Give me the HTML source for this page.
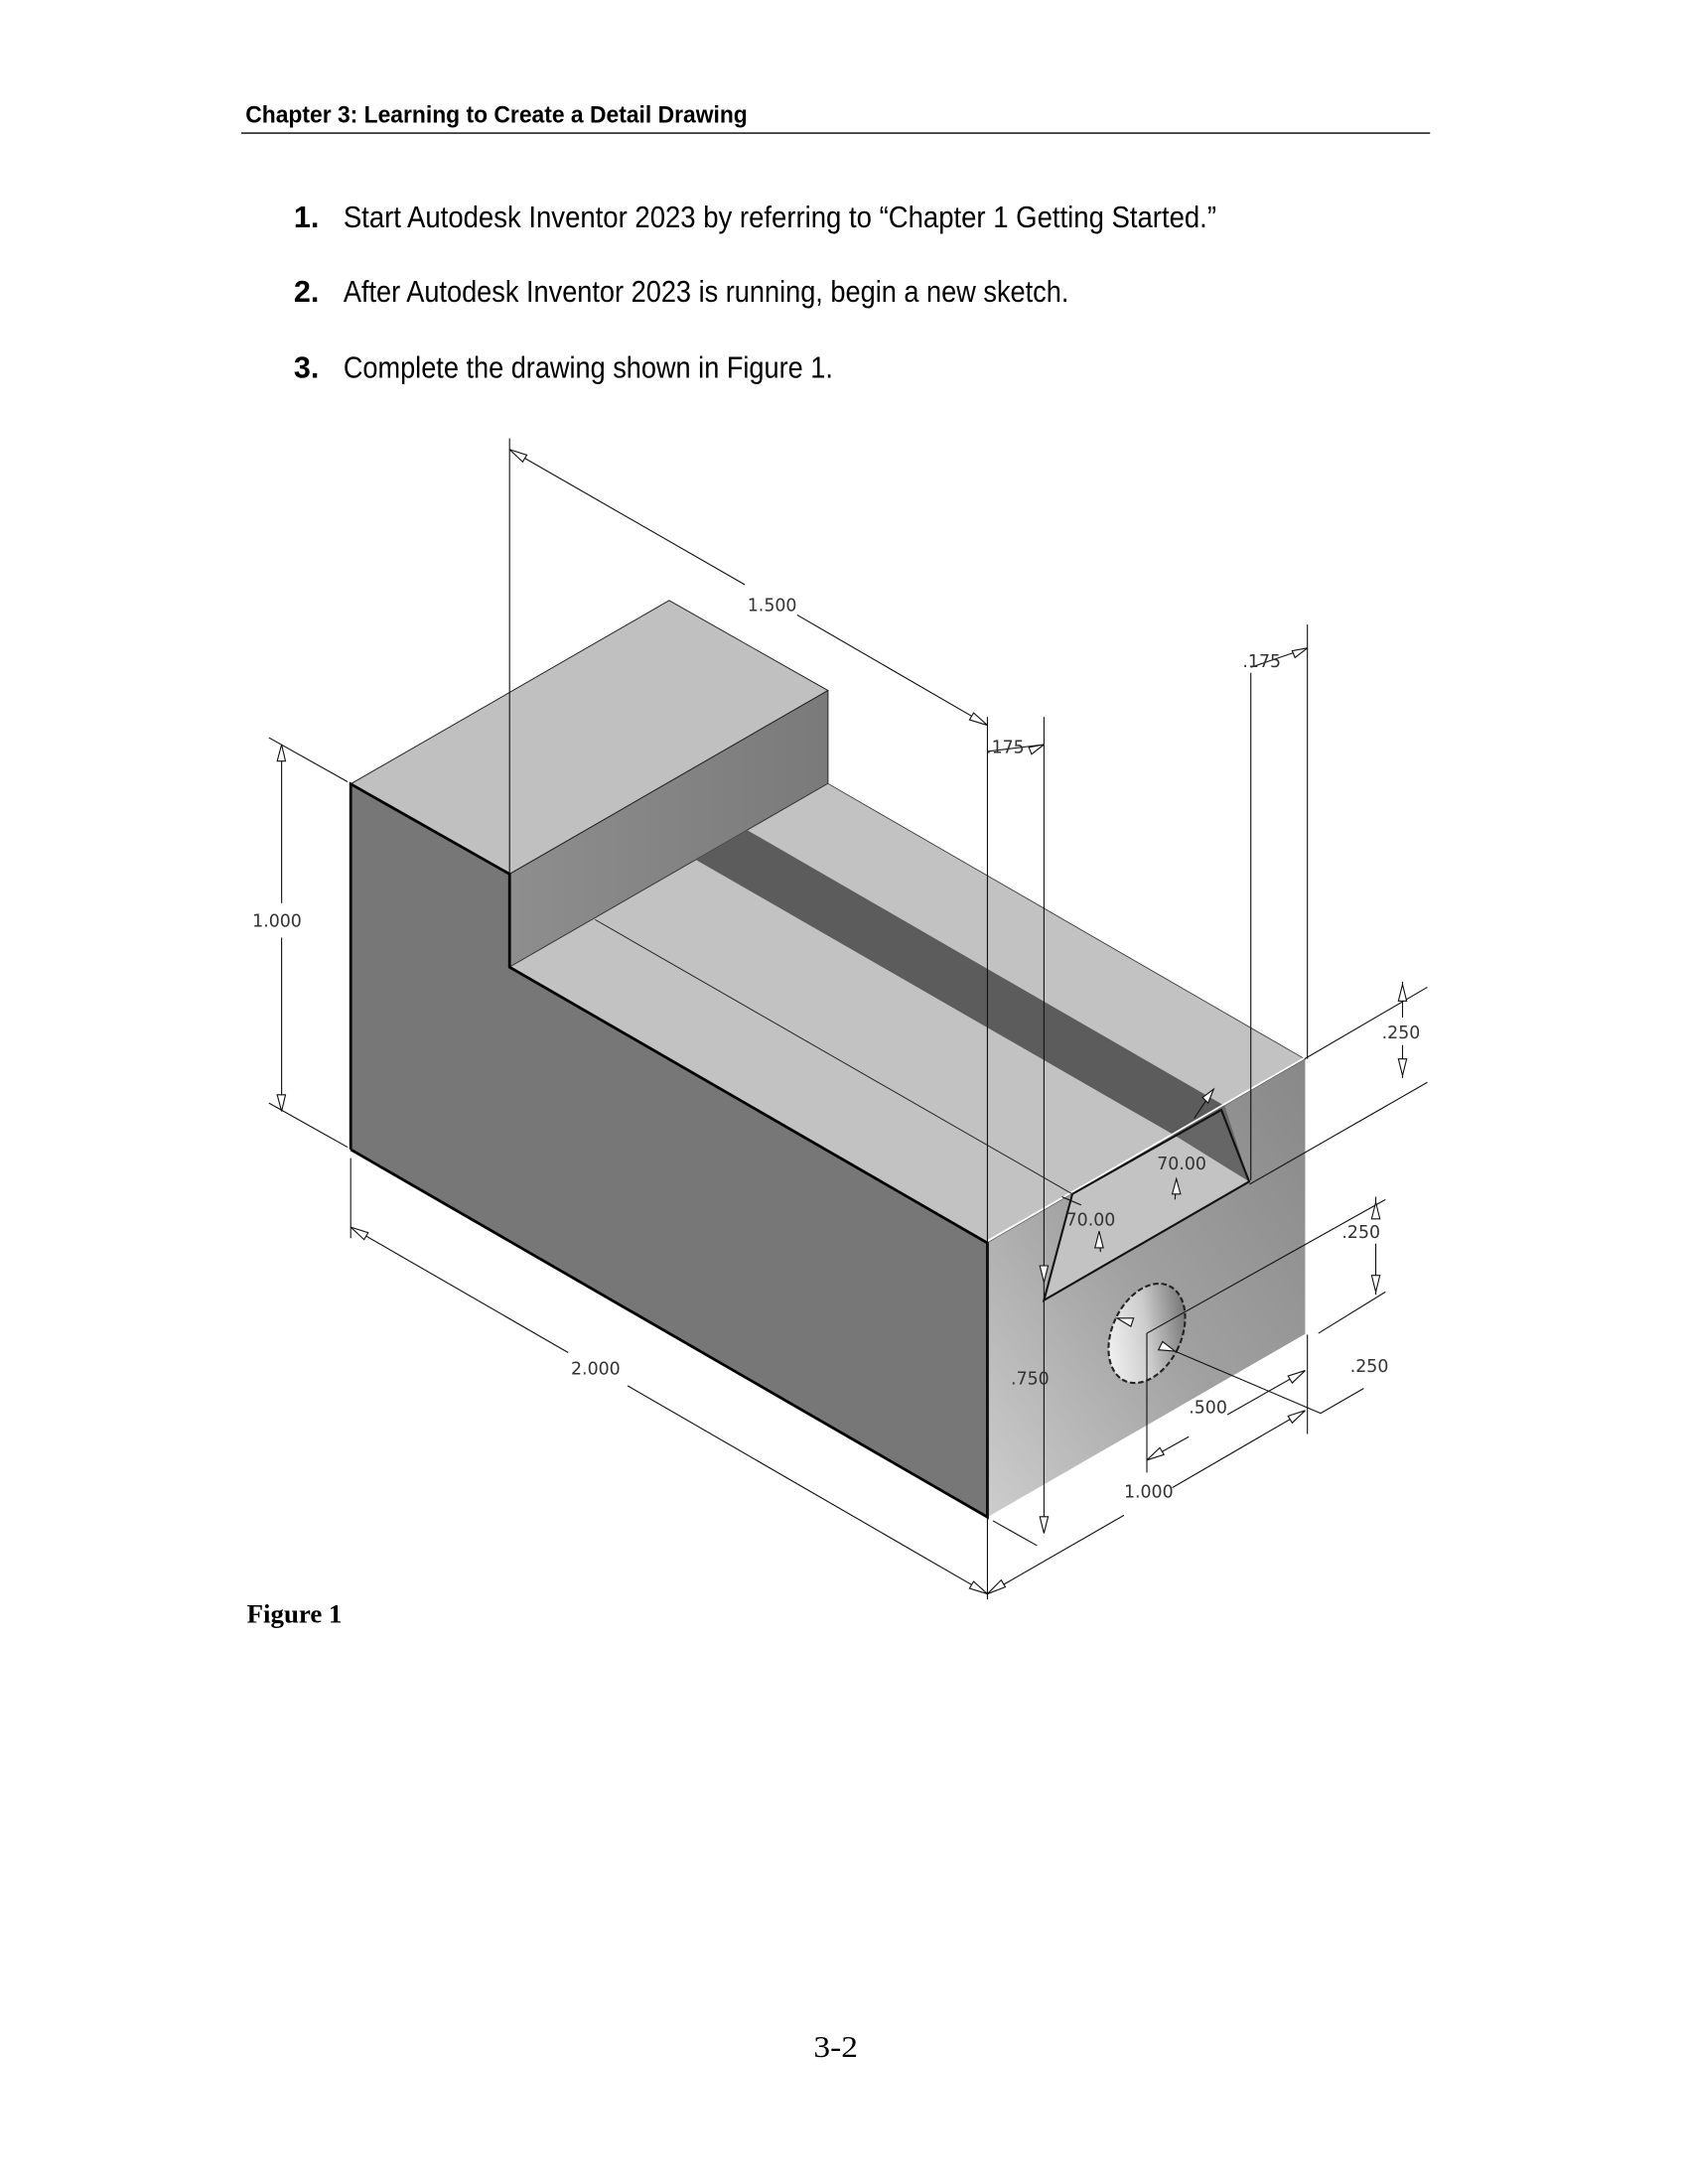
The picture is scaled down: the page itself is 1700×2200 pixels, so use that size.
<!DOCTYPE html>
<html><head><meta charset="utf-8"><style>
html,body{margin:0;padding:0;background:#fff;}
svg{display:block;}
.d{font-family:"DejaVu Sans",sans-serif;font-size:12.5px;fill:#333;}
</style></head><body>
<svg width="1700" height="2200" viewBox="0 0 1224 1584" xmlns="http://www.w3.org/2000/svg">
<defs>
<linearGradient id="rf" x1="0" y1="1" x2="1" y2="0">
<stop offset="0" stop-color="#cdcdcd"/><stop offset="0.5" stop-color="#a0a0a0"/><stop offset="1" stop-color="#888"/>
</linearGradient>
<linearGradient id="rs" x1="0" y1="0" x2="1" y2="0">
<stop offset="0" stop-color="#8e8e8e"/><stop offset="1" stop-color="#7a7a7a"/>
</linearGradient>
<linearGradient id="hole" x1="0" y1="1" x2="1" y2="0">
<stop offset="0" stop-color="#fff"/><stop offset="0.5" stop-color="#ccc"/><stop offset="1" stop-color="#555"/>
</linearGradient>
</defs>
<!-- header -->
<text x="178" y="89" font-family="Liberation Sans, sans-serif" font-weight="bold" font-size="17" textLength="364" lengthAdjust="spacingAndGlyphs">Chapter 3:  Learning to Create a Detail Drawing</text>
<line x1="175" y1="96.5" x2="1037" y2="96.5" stroke="#000" stroke-width="1"/>
<g font-family="Liberation Sans, sans-serif" font-size="22">
<text x="213" y="165" font-weight="bold">1.</text>
<text x="249" y="165" textLength="633" lengthAdjust="spacingAndGlyphs">Start Autodesk Inventor 2023 by referring to “Chapter 1 Getting Started.”</text>
<text x="213" y="219" font-weight="bold">2.</text>
<text x="249" y="219" textLength="526" lengthAdjust="spacingAndGlyphs">After Autodesk Inventor 2023 is running, begin a new sketch.</text>
<text x="213" y="274" font-weight="bold">3.</text>
<text x="249" y="274" textLength="355" lengthAdjust="spacingAndGlyphs">Complete the drawing shown in Figure 1.</text>
</g>

<!-- block faces -->
<polygon points="254.3,568.6 485.2,435.5 600.4,500.8 369.5,633.9" fill="#c0c0c0" stroke="#222" stroke-width="0.7"/>
<polygon points="369.5,633.9 600.4,500.8 600.4,568.3 369.5,701.4" fill="url(#rs)" stroke="#222" stroke-width="0.7"/>
<polygon points="369.5,701.4 600.4,568.3 946.4,768.2 716,901.5" fill="#c2c2c2" stroke="#333" stroke-width="0.6"/>
<polygon points="504.5,623.5 541.7,602 888,802 851,823" fill="#5c5c5c"/>
<polygon points="254.3,568.6 369.5,633.9 369.5,701.4 716,901.5 716,1100.3 254.3,833.7" fill="#777"/>
<polygon points="716,901.5 946.4,768.2 946.4,967.5 716,1100.3" fill="url(#rf)"/>
<line x1="716" y1="900" x2="946.4" y2="767" stroke="#fff" stroke-width="1.2"/>
<!-- slot on front -->
<polygon points="777.6,866 885.6,805 905.8,857 757,943" fill="#c3c3c3"/>
<polygon points="851,823 888,802 905.8,857" fill="#666"/>
<polygon points="777.6,866 757,943 740,912 " fill="#a8a8a8" opacity="0"/>
<polyline points="777.6,866 885.6,805 905.8,857 757,943 777.6,866" fill="none" stroke="#111" stroke-width="1.5"/>
<line x1="431.5" y1="667" x2="777.6" y2="866" stroke="#222" stroke-width="0.7"/>
<!-- bold edges -->
<polyline points="254.3,833.7 254.3,568.6 369.5,633.9 369.5,701.4 716,901.5 716,1100.3 254.3,833.7" fill="none" stroke="#000" stroke-width="2"/>
<!-- hole -->
<ellipse cx="831.6" cy="967" rx="25" ry="38" transform="rotate(25 831.6 967)" fill="url(#hole)" stroke="#222" stroke-width="1.5" stroke-dasharray="4 2"/>

<!-- dimension lines -->
<g stroke="#111" stroke-width="0.8" fill="none">
<line x1="369.5" y1="318" x2="369.5" y2="634"/>
<line x1="369.5" y1="326" x2="540" y2="424"/><line x1="578" y1="446" x2="716" y2="526"/>
<line x1="716" y1="520" x2="716" y2="1160"/>
<line x1="757" y1="520" x2="757" y2="1112"/>
<line x1="716" y1="545" x2="757" y2="540"/>
<line x1="907" y1="488" x2="907" y2="856"/>
<line x1="948" y1="453" x2="948" y2="768"/>
<line x1="907" y1="484" x2="948" y2="470"/>
<line x1="204.2" y1="540" x2="204.2" y2="655"/><line x1="204.2" y1="680" x2="204.2" y2="806"/>
<line x1="195" y1="535" x2="252" y2="567"/><line x1="195" y1="800" x2="252" y2="832"/>
<line x1="254.3" y1="840" x2="254.3" y2="898"/>
<line x1="254.3" y1="890" x2="412" y2="981"/><line x1="455" y1="1005" x2="716" y2="1156"/>
<line x1="720" y1="1103" x2="752" y2="1121"/>
<line x1="716" y1="1156" x2="815" y2="1099"/><line x1="850" y1="1079" x2="946.4" y2="1023"/>
<line x1="948" y1="968" x2="948" y2="1040"/>
<line x1="946" y1="768" x2="1035" y2="716"/>
<line x1="906" y1="859" x2="1035" y2="785"/>
<line x1="1017" y1="712" x2="1017" y2="738"/><line x1="1017" y1="758" x2="1017" y2="782"/>
<line x1="831.6" y1="967" x2="1004.6" y2="870"/>
<line x1="956" y1="967" x2="1004.6" y2="937"/>
<line x1="997.6" y1="868" x2="997.6" y2="884"/><line x1="997.6" y1="902" x2="997.6" y2="939"/>
<polyline points="852,980 957.6,1025 988.8,1007"/>
<line x1="831.6" y1="967" x2="831.6" y2="1068"/>
<line x1="831.6" y1="1059" x2="862" y2="1042"/><line x1="890" y1="1026" x2="946.4" y2="994"/>
<line x1="866" y1="811" x2="880" y2="790"/><line x1="853" y1="855" x2="852" y2="870"/>
<line x1="797" y1="893" x2="798" y2="908"/><line x1="770" y1="868" x2="784" y2="874"/>
</g>
<!-- arrowheads -->
<g fill="#fff" stroke="#111" stroke-width="0.8">
<polygon points="369.5,326 382,330 379,335"/>
<polygon points="716,526 703,522 706,517"/>
<polygon points="204.2,540 201,552 207,552"/>
<polygon points="204.2,806 201,794 207,794"/>
<polygon points="254.3,890 267,894 264,899"/>
<polygon points="716,1156 703,1152 706,1147"/>
<polygon points="716,1156 729,1151 726,1146"/>
<polygon points="946.4,1023 934,1027 937,1032"/>
<polygon points="757,1112 754,1100 760,1100"/>
<polygon points="1017,714 1014,726 1020,726"/>
<polygon points="1017,780 1014,768 1020,768"/>
<polygon points="997.6,872 994.6,884 1000.6,884"/>
<polygon points="997.6,937 994.6,925 1000.6,925"/>
<polygon points="831.6,1059 844,1055 841,1050"/>
<polygon points="946.4,994 934,998 937,1003"/>
<polygon points="810,956 822,956 820,962"/>
<polygon points="852,980 840,979 843,973"/>
<polygon points="757,930 754,918 760,918"/>
<polygon points="880,790 872,796 876,800"/>
<polygon points="853,855 850,866 856,866"/>
<polygon points="797,893 794,905 800,905"/>
<polygon points="948,470 937,472 939,477"/>
<polygon points="757,540 746,542 748,547"/>
</g>
<!-- dimension text -->
<g class="d">
<text x="542" y="443">1.500</text>
<text x="715" y="546">.175</text>
<text x="901" y="484">.175</text>
<text x="183" y="672">1.000</text>
<text x="414" y="997">2.000</text>
<text x="815" y="1086">1.000</text>
<text x="733" y="1004">.750</text>
<text x="1002" y="753">.250</text>
<text x="973" y="898">.250</text>
<text x="979" y="995">.250</text>
<text x="862" y="1025">.500</text>
<text x="839" y="848">70.00</text>
<text x="773" y="889">70.00</text>
</g>
<text x="179" y="1177" font-family="Liberation Serif, serif" font-weight="bold" font-size="19" textLength="69" lengthAdjust="spacingAndGlyphs">Figure 1</text>
<text x="590" y="1492" font-family="Liberation Serif, serif" font-size="22" textLength="32" lengthAdjust="spacingAndGlyphs">3-2</text>
</svg>
</body></html>
